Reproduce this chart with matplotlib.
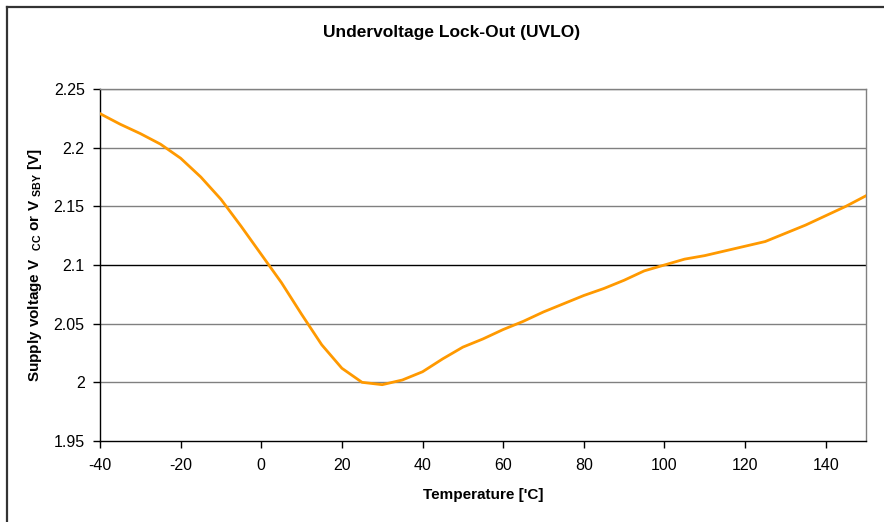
import matplotlib
matplotlib.use("Agg")
import matplotlib.pyplot as plt
from matplotlib.lines import Line2D

plt.rcParams['font.family'] = ['Liberation Sans', 'DejaVu Sans']
plt.rcParams['mathtext.fontset'] = 'custom'
plt.rcParams['mathtext.rm'] = 'Liberation Sans:bold'
plt.rcParams['mathtext.bf'] = 'Liberation Sans:bold'
plt.rcParams['axes.unicode_minus'] = False

temperature = [-40, -35, -30, -25, -20, -15, -10, -5, 0, 5, 10, 15, 20, 25, 30, 35,
               40, 45, 50, 55, 60, 65, 70, 75, 80, 85, 90, 95, 100, 105, 110, 115,
               120, 125, 130, 135, 140, 145, 150]
uvlo = [2.229, 2.220, 2.212, 2.203, 2.191, 2.175, 2.156, 2.133, 2.109, 2.085, 2.058,
        2.032, 2.012, 2.000, 1.998, 2.002, 2.009, 2.020, 2.030, 2.037, 2.045, 2.052,
        2.060, 2.067, 2.074, 2.080, 2.087, 2.095, 2.100, 2.105, 2.108, 2.112, 2.116,
        2.120, 2.127, 2.134, 2.142, 2.150, 2.159]
x_ticks = [-40, -20, 0, 20, 40, 60, 80, 100, 120, 140]
y_ticks = [1.95, 2.0, 2.05, 2.1, 2.15, 2.2, 2.25]
y_tick_labels = ['1.95', '2', '2.05', '2.1', '2.15', '2.2', '2.25']

W, H = 884, 522
fig = plt.figure(figsize=(W / 100, H / 100), dpi=100)
ax = fig.add_axes([100 / W, 1 - 441 / H, (866 - 100) / W, (441 - 89) / H])

for yv in y_ticks[1:]:
    ax.axhline(yv, color='black' if abs(yv - 2.1) < 1e-9 else '#808080',
               linewidth=1.0, zorder=1)

ax.plot(temperature, uvlo, color='#FF9900', linewidth=2.0, zorder=3,
        solid_joinstyle='round')

ax.set_xlim(-40, 150)
ax.set_ylim(1.95, 2.25)
ax.set_xticks(x_ticks)
ax.set_yticks(y_ticks)
ax.set_yticklabels(y_tick_labels)
ax.tick_params(direction='out', length=5, width=1, labelsize=11.5, colors='black')
ax.tick_params(axis='x', pad=7)
ax.tick_params(axis='y', pad=6)

ax.spines['left'].set_color('black')
ax.spines['bottom'].set_color('black')
ax.spines['top'].set_color('#808080')
ax.spines['right'].set_color('#808080')
for s in ax.spines.values():
    s.set_linewidth(1.0)

ax.set_xlabel("Temperature ['C]", fontsize=11, fontweight='bold', labelpad=11)
ax.set_ylabel(r"Supply voltage V  $_{\mathrm{CC}}$ or V $_{\mathrm{SBY}}$ [V]",
              fontsize=11, fontweight='bold', labelpad=7)

fig.text(452 / W, 1 - 32 / H, "Undervoltage Lock-Out (UVLO)", ha='center',
         va='center', fontsize=12.5, fontweight='bold')

# figure border
fig.add_artist(Line2D([7.5 / W, 7.5 / W], [0, 1 - 6.5 / H], transform=fig.transFigure,
                      color='#333333', linewidth=1.6))
fig.add_artist(Line2D([7.5 / W, 1], [1 - 6.5 / H, 1 - 6.5 / H], transform=fig.transFigure,
                      color='#333333', linewidth=1.6))

fig.savefig('out.png', dpi=100)
